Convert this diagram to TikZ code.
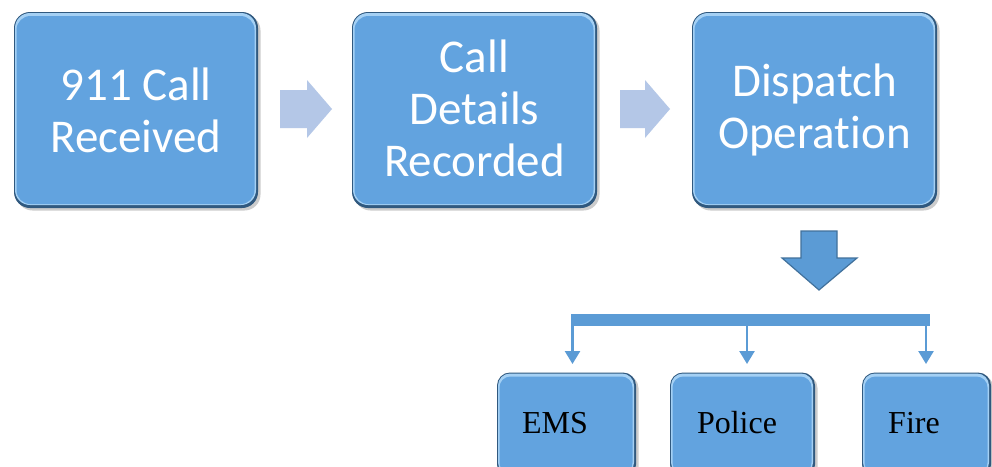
\documentclass[tikz,border=0pt]{standalone}
\usepackage{fontspec}
\newfontfamily\calibri[Ligatures=NoCommon]{Carlito}
\newfontfamily\timesf{Liberation Serif}
\usetikzlibrary{shadows,calc,arrows.meta}

\definecolor{boxblue}{HTML}{62A3DF}
\definecolor{boxdark}{HTML}{30597F}
\definecolor{boxlight}{HTML}{A4D0F4}
\definecolor{flowlight}{HTML}{B4C7E7}
\definecolor{flowblue}{HTML}{5B9BD5}
\definecolor{flowedge}{HTML}{41719C}

\tikzset{
  x=1pt, y=-1pt,
  % outer dark rim of a bevelled panel, with its shadow
  panelrim/.style={rounded corners=#1, fill=boxdark, inner sep=0pt, outer sep=0pt,
    drop shadow={opacity=0.4, shadow xshift=2.5pt, shadow yshift=-2.5pt}},
  % light upper-left bevel
  panelglow/.style={rounded corners=#1, fill=boxlight, inner sep=0pt, outer sep=0pt},
  % flat face of the panel
  panelface/.style={rounded corners=#1, fill=boxblue, inner sep=0pt, outer sep=0pt},
  bigtext/.style={text=white, align=center, inner sep=0pt,
    font=\calibri\fontsize{47}{52}\selectfont},
  smalltext/.style={text=black, inner sep=0pt, anchor=base,
    font=\timesf\fontsize{32}{36}\selectfont},
  stepflow/.style={fill=flowlight, draw=none},
  branch/.style={draw=flowblue, line width=2.5pt,
    -{Triangle[width=15pt,length=13pt]}},
}

% bevelled panel: name, centre x, centre y, width, height, corner radius
\newcommand\bevelpanel[6]{%
  \node[panelrim=#6, minimum width=#4 pt, minimum height=#5 pt] (#1) at (#2,#3) {};
  \node[panelglow=#6-1, minimum width=#4 pt - 3pt, minimum height=#5 pt - 4pt]
    (#1-glow) at ($(#1.center)+(-0.5,-1)$) {};
  \node[panelface=#6-2, minimum width=#4 pt - 6pt, minimum height=#5 pt - 8pt]
    (#1-face) at ($(#1.center)+(-0.5,0)$) {};
}

\begin{document}
\begin{tikzpicture}
\useasboundingbox (0,0) rectangle (992,466);
\clip (0,0) rectangle (992,466);
\fill[white] (0,0) rectangle (992,466);

% top row of steps
\bevelpanel{recv}{136}{110}{244}{196}{16}
\bevelpanel{details}{474.5}{110}{245}{196}{16}
\bevelpanel{dispatch}{814.5}{110}{245}{196}{16}

\node[bigtext] (recv-t) at (recv.center) {911 Call\\Received};
\node[bigtext] (details-t) at ($(details.center)+(0,-2)$) {Call\\Details\\Recorded};
\node[bigtext] (dispatch-t) at ($(dispatch.center)+(0,0)$) {Dispatch\\Operation};

% light block arrows between the steps
\fill[stepflow] (280,90) -- (307,90) -- (307,80) -- (332,109) -- (307,138)
  -- (307,128) -- (280,128) -- cycle;
\fill[stepflow] (620,90) -- (645,90) -- (645,80) -- (670,109) -- (645,138)
  -- (645,128) -- (620,128) -- cycle;

% downward block arrow under the dispatch step
\filldraw[fill=flowblue, draw=flowedge, line width=1.2pt, line join=miter]
  (801,231) -- (837,231) -- (837,258) -- (857,258) -- (819,290)
  -- (782,258) -- (801,258) -- cycle;

% distribution bar
\node[fill=flowblue, minimum width=359pt, minimum height=12pt, inner sep=0pt,
  outer sep=0pt] (bar) at (750.5,320) {};

% responder units
\bevelpanel{ems}{566.5}{425}{139}{105}{13}
\bevelpanel{police}{742.5}{425}{145}{105}{13}
\bevelpanel{fire}{926.5}{425}{129}{105}{13}

\node[smalltext] (ems-t) at (555,433) {EMS};
\node[smalltext] (police-t) at (737,433) {Police};
\node[smalltext] (fire-t) at (914,433) {Fire};

% branches from the bar to each unit
\coordinate (b1) at (572.5,364);
\coordinate (b2) at (747,364);
\coordinate (b3) at (926,364);
\draw[branch] (bar.south -| b1) -- (b1);
\draw[branch] (bar.south -| b2) -- (b2);
\draw[branch] (bar.south -| b3) -- (b3);
\end{tikzpicture}
\end{document}
